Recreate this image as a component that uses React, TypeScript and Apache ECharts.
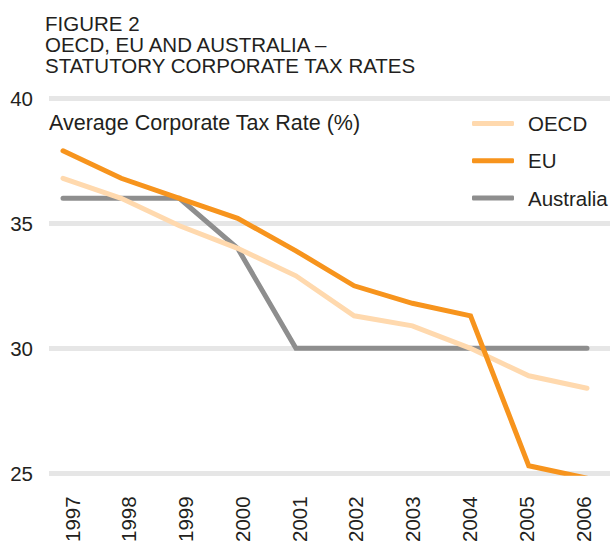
import React, { useEffect, useRef } from "react";
import * as echarts from "echarts";

const years = ["1997", "1998", "1999", "2000", "2001", "2002", "2003", "2004", "2005", "2006"];
const oecd = [36.8, 36.0, 34.9, 34.0, 32.9, 31.3, 30.9, 30.0, 28.9, 28.4];
const eu = [37.9, 36.8, 36.0, 35.2, 33.9, 32.5, 31.8, 31.3, 25.3, 24.8];
const australia = [36, 36, 36, 34, 30, 30, 30, 30, 30, 30];
const titleLines = ["FIGURE 2", "OECD, EU AND AUSTRALIA –", "STATUTORY CORPORATE TAX RATES"];
const yAxisTitle = "Average Corporate Tax Rate (%)";

const FONT = "'Liberation Sans', Arial, Helvetica, sans-serif";
const TEXT = "#231f20";

export default function App() {
  const ref = useRef<HTMLDivElement>(null);
  useEffect(() => {
    if (!ref.current) return;
    const chart = echarts.init(ref.current, undefined, { renderer: "svg" });
    const top = 98.3;
    const bottom = 545 - 473.3;
    chart.setOption({
      animation: false,
      backgroundColor: "#ffffff",
      textStyle: { fontFamily: FONT },
      title: {
        text: titleLines.join("\n"),
        left: 45,
        top: 13,
        padding: 0,
        textStyle: { fontFamily: FONT, fontSize: 20.5, fontWeight: "normal", color: TEXT, lineHeight: 21 },
      },
      legend: {
        orient: "vertical",
        left: 472,
        top: 113,
        padding: 0,
        itemWidth: 42,
        itemHeight: 5,
        itemGap: 16.3,
        icon: "roundRect",
        textStyle: { fontFamily: FONT, fontSize: 20.5, color: TEXT, padding: [0, 0, 0, 9], lineHeight: 20 },
        data: ["OECD", "EU", "Australia"],
      },
      grid: [
        { left: 49, right: 0, top, bottom },
        { left: 63, right: 23, top, bottom },
        { left: 72, right: 27, top, bottom },
      ],
      xAxis: [
        { type: "value", gridIndex: 0, show: false, min: 0, max: 1 },
        {
          type: "category",
          gridIndex: 1,
          data: years,
          boundaryGap: false,
          axisLine: { show: false },
          axisTick: { show: false },
          axisLabel: { show: false },
        },
        {
          type: "category",
          gridIndex: 2,
          data: years,
          boundaryGap: false,
          axisLine: { show: false },
          axisTick: { show: false },
          axisLabel: {
            rotate: 90,
            margin: 24,
            fontFamily: FONT,
            fontSize: 20.5,
            color: TEXT,
          },
        },
      ],
      yAxis: [
        {
          type: "value",
          gridIndex: 0,
          min: 25,
          max: 40,
          interval: 5,
          name: yAxisTitle,
          nameLocation: "end",
          nameGap: -24.7,
          nameTextStyle: { fontFamily: FONT, fontSize: 21.5, color: TEXT, align: "left", verticalAlign: "middle" },
          axisLine: { show: false },
          axisTick: { show: false },
          axisLabel: { margin: 16, fontFamily: FONT, fontSize: 20.5, color: TEXT, padding: [4, 0, 0, 0] },
          splitLine: { show: true, lineStyle: { color: "#e6e6e6", width: 5 } },
        },
        { type: "value", gridIndex: 1, min: 25, max: 40, interval: 5, show: false, splitLine: { show: false } },
        { type: "value", gridIndex: 2, min: 25, max: 40, interval: 5, show: false, splitLine: { show: false } },
      ],
      series: [
        {
          name: "OECD",
          type: "line",
          xAxisIndex: 1,
          yAxisIndex: 1,
          data: oecd,
          symbol: "none",
          color: "#ffd9ae",
          lineStyle: { width: 5, color: "#ffd9ae", cap: "round", join: "miter" },
          z: 3,
        },
        {
          name: "EU",
          type: "line",
          xAxisIndex: 1,
          yAxisIndex: 1,
          data: eu,
          symbol: "none",
          color: "#f7941d",
          lineStyle: { width: 5, color: "#f7941d", cap: "round", join: "miter" },
          z: 4,
        },
        {
          name: "Australia",
          type: "line",
          xAxisIndex: 1,
          yAxisIndex: 1,
          data: australia,
          symbol: "none",
          color: "#8e8e8e",
          lineStyle: { width: 5, color: "#8e8e8e", cap: "round", join: "miter" },
          z: 2,
        },
      ],
    });
    return () => chart.dispose();
  }, []);
  return <div ref={ref} style={{ position: "absolute", left: 0, top: 0, width: 610, height: 545 }} />;
}
